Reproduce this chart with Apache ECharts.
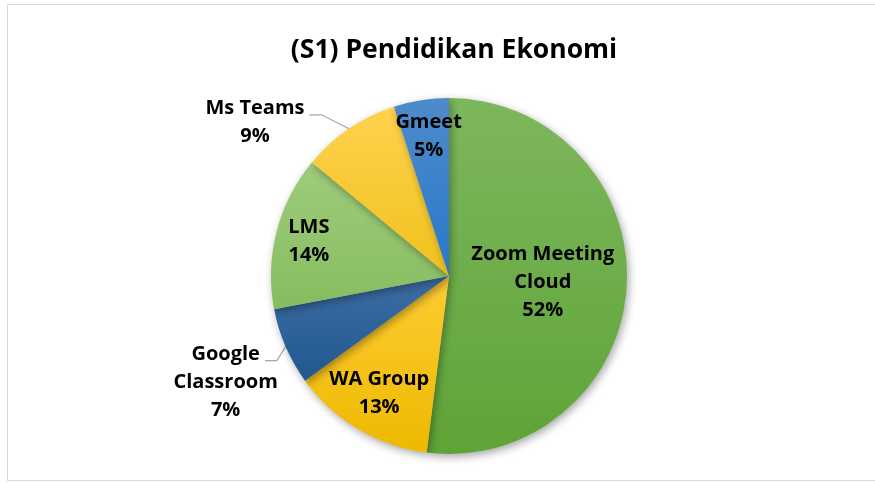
<!DOCTYPE html>
<html>
<head>
<meta charset="utf-8">
<script src="https://cdn.jsdelivr.net/npm/echarts@6/dist/echarts.min.js"></script>
<style>
  html, body { margin: 0; padding: 0; background: #fff; }
  .frame {
    position: absolute; left: 7px; top: 4px; width: 900px; height: 475px;
    border: 1px solid #d9d9d9; border-right: none;
  }
  #pie { position: absolute; left: 0; top: 0; width: 875px; height: 483px; }
</style>
</head>
<body>
<div class="frame"></div>
<div id="pie"></div>
<script>
// data (percent of respondents)
const categories = ['Zoom Meeting Cloud', 'WA Group', 'Google Classroom', 'LMS', 'Ms Teams', 'Gmeet']
const labelText = ['Zoom Meeting\nCloud', 'WA Group', 'Google\nClassroom', 'LMS', 'Ms Teams', 'Gmeet']
const values = [52, 13, 7, 14, 9, 5]

// slice colours (top, bottom of gradient)
const colors = [
  ['#7db75d', '#5fa437'],
  ['#ffcc33', '#eeb900'],
  ['#3d6da3', '#215890'],
  ['#9fcc7c', '#86bd5f'],
  ['#ffd24f', '#f0c11c'],
  ['#4f8bcc', '#2878c9']
]
const outside = [false, false, true, false, true, false]
// inside labels: nudge from default spot; outside labels: offset from the slice edge point
const labelShift = [[2, 1], [-23, 38], [-60, 36], [-51, -12], [-94, -6], [-6, -49]]

let chart = echarts.init(document.getElementById('pie'))
const font = '"Open Sans", Lato, sans-serif'
const LH = 28
const ctx = document.createElement('canvas').getContext('2d')
ctx.font = 'bold 20px ' + font

chart.setOption({
  title: {
    text: '(S1) Pendidikan Ekonomi',
    left: 449,
    top: 32,
    textAlign: 'center',
    textStyle: { fontFamily: font, fontSize: 26.5, fontWeight: 'bold', color: '#000' }
  },
  series: [{
    type: 'pie',
    center: [449, 276],
    radius: 178,
    startAngle: 90,
    clockwise: true,
    avoidLabelOverlap: false,
    itemStyle: {
      borderWidth: 0,
      shadowBlur: 8,
      shadowOffsetX: 2,
      shadowOffsetY: 3,
      shadowColor: 'rgba(0,0,0,0.35)'
    },
    label: {
      fontFamily: font,
      fontSize: 20,
      fontWeight: 'bold',
      color: '#000',
      lineHeight: LH,
      align: 'center'
    },
    labelLine: { lineStyle: { color: '#a6a6a6', width: 1.2 } },
    labelLayout: function (p) {
      const i = p.dataIndex
      const s = labelShift[i]
      const r = p.labelRect
      if (!outside[i]) {
        return {
          x: r.x + r.width / 2 + s[0],
          y: r.y + r.height / 2 + s[1],
          align: 'center',
          verticalAlign: 'middle'
        }
      }
      const a = p.labelLinePoints[0]
      const cx = a[0] + s[0]
      const cy = a[1] + s[1]
      const lines = labelText[i].split('\n')
      const nLines = lines.length + 1
      const lineY = cy - (nLines - 1) * LH / 2 + 6
      const xr = cx + ctx.measureText(lines[0]).width / 2 + 5
      return {
        x: cx,
        y: cy,
        align: 'center',
        verticalAlign: 'middle',
        labelLinePoints: [a, [xr + 12, lineY], [xr, lineY]]
      }
    },
    emphasis: { disabled: true },
    data: categories.map((name, i) => ({
      name: name,
      value: values[i],
      itemStyle: {
        color: new echarts.graphic.LinearGradient(0, 0, 0, 1, [
          { offset: 0, color: colors[i][0] },
          { offset: 1, color: colors[i][1] }
        ])
      },
      label: {
        position: outside[i] ? 'outside' : 'inside',
        formatter: labelText[i] + '\n' + values[i] + '%'
      },
      labelLine: outside[i] ? { show: true, length: 15, length2: 12 } : { show: false }
    }))
  }]
})
</script>
</body>
</html>
